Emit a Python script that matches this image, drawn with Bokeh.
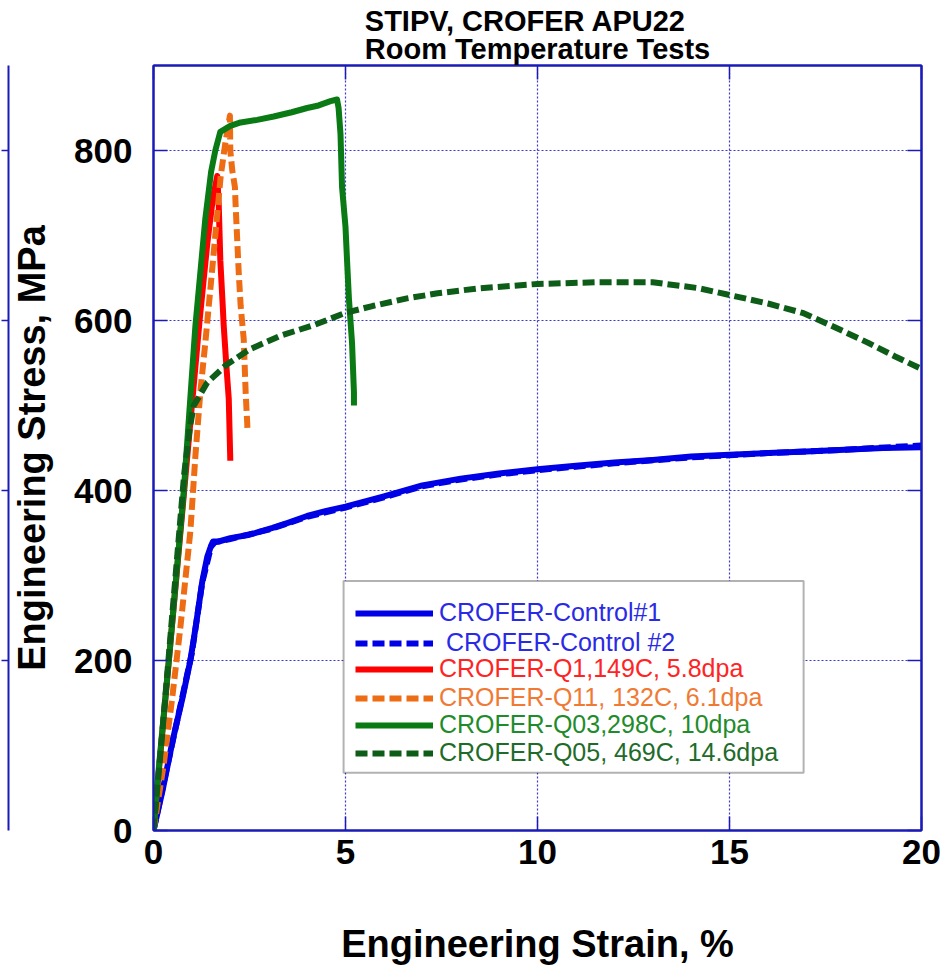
from bokeh.plotting import figure
from bokeh.models import (Range1d, LinearAxis, FixedTicker, Legend, LegendItem,
                          BoxAnnotation, Label)
from bokeh.embed import file_html
from bokeh.resources import INLINE

# ---------------- data ----------------
x_ticks = [0, 5, 10, 15, 20]
y_ticks = [0, 200, 400, 600, 800]

ctrl1_strain = [0, 0.25, 0.5, 0.75, 0.96, 1.1, 1.27, 1.4, 1.5, 1.55, 1.7, 2.0, 2.5, 3.1, 3.5,
                4.0, 4.5, 5.0, 6.0, 7.0, 8.0, 9.0, 10.0, 11.0, 12.0, 13.0, 14.0, 15.0,
                16.0, 17.0, 18.0, 19.0, 20.0]
ctrl1_stress = [0, 50, 106, 155, 200, 240, 293, 322, 335, 340, 340, 344, 348, 356, 362,
                370, 376, 381, 393, 406, 414, 420, 425, 429, 433, 436, 440, 442,
                444, 446, 448, 450, 451]

ctrl2_strain = [0, 0.5, 1.0, 1.27, 1.5, 1.6, 2.0, 3.0, 4.0, 5.0, 6.0, 7.0, 8.0, 9.0, 10.0,
                12.0, 14.0, 16.0, 18.0, 20.0]
ctrl2_stress = [0, 105, 209, 292, 334, 339, 343, 354, 369, 380, 392, 405, 413, 419, 424,
                432, 439, 444, 448, 453]

q1_strain = [0, 0.3, 0.6, 0.9, 1.2, 1.4, 1.55, 1.66, 1.70, 1.74, 1.80, 1.83, 1.90, 1.96, 2.0]
q1_stress = [0, 150, 300, 450, 600, 690, 745, 770, 735, 671, 620, 593, 545, 508, 435]

q11_strain = [0, 0.27, 0.49, 0.70, 0.96, 1.09, 1.22, 1.35, 1.52, 1.65, 1.75, 1.875, 1.99,
              2.0, 2.05, 2.12, 2.14, 2.18, 2.22, 2.27, 2.35, 2.40, 2.44, 2.45]
q11_stress = [0, 79, 157, 239, 352, 440, 516, 574, 656, 720, 770, 810, 841,
              800, 777, 757, 734, 695, 656, 617, 578, 515, 480, 468]

q03_strain = [0, 0.1, 0.4, 0.79, 1.09, 1.35, 1.5, 1.61, 1.74, 2.0, 2.27, 2.7, 3.13, 3.6,
              4.0, 4.3, 4.61, 4.78, 4.82, 4.87, 4.91, 5.0, 5.04, 5.09, 5.17, 5.22, 5.22]
q03_stress = [0, 55, 200, 400, 593, 720, 775, 800, 822, 829, 833, 836, 840, 845,
              850, 853, 858, 860, 850, 819, 757, 710, 671, 625, 574, 515, 500]

q05_strain = [0, 0.2, 0.5, 0.8, 0.95, 1.05, 1.22, 1.4, 1.9, 2.5, 3.3, 4.2, 5.0, 5.7, 6.6,
              7.4, 8.5, 10.0, 11.6, 13.0, 14.2, 15.0, 16.0, 16.9, 17.6, 18.6, 19.3, 20.0]
q05_stress = [0, 100, 260, 420, 475, 500, 513, 527, 548, 566, 582, 595, 609, 617, 626,
              632, 638, 643, 645, 645, 638, 630, 620, 609, 595, 574, 558, 543]

labels = ["CROFER-Control#1", "CROFER-Control #2", "CROFER-Q1,149C, 5.8dpa",
          "CROFER-Q11, 132C, 6.1dpa", "CROFER-Q03,298C, 10dpa", "CROFER-Q05, 469C, 14.6dpa"]

# ---------------- styling ----------------
FONT = "Liberation Sans"
FRAME = "#1a1ab8"
GRID = "#3a3ad0"
line_colors = ["#0000e6", "#0000e6", "#ff0000", "#ee6c14", "#0a7a14", "#0d5c17"]
text_colors = ["#2a2ae6", "#2a2ae6", "#ff2424", "#f07a34", "#1f8c2c", "#1f6b2a"]
dashes = ["solid", "12 5", "solid", "12 5", "solid", "12 5"]
LW = 6

p = figure(width=945, height=967, x_range=Range1d(0, 20), y_range=Range1d(0, 900),
           output_backend="svg", toolbar_location=None,
           min_border_left=153, min_border_right=24, min_border_top=65, min_border_bottom=133,
           x_axis_label="Engineering Strain, %", y_axis_label="Engineering Stress, MPa")
p.background_fill_color = "white"
p.border_fill_color = "white"
p.outline_line_color = FRAME
p.outline_line_width = 2

p.title.text = "STIPV, CROFER APU22\nRoom Temperature Tests"
p.title.align = "center"
p.title.text_font = FONT
p.title.text_font_size = "29px"
p.title.text_font_style = "bold"
p.title.text_color = "black"
p.title.text_line_height = 0.9
p.title.standoff = 0
p.title.offset = 0

# main axes
p.xaxis.ticker = FixedTicker(ticks=x_ticks)
p.yaxis.ticker = FixedTicker(ticks=y_ticks)
for ax in (p.xaxis[0], p.yaxis[0]):
    ax.major_tick_in = 14
    ax.major_tick_out = 0
    ax.minor_tick_in = 0
    ax.minor_tick_out = 0
    ax.axis_line_color = FRAME
    ax.axis_line_width = 2
    ax.major_tick_line_color = FRAME
    ax.major_tick_line_width = 1.5
    ax.major_label_text_font = FONT
    ax.major_label_text_font_size = "35px"
    ax.major_label_text_font_style = "bold"
    ax.major_label_text_color = "black"
    ax.axis_label_text_font = FONT
    ax.axis_label_text_font_size = "38px"
    ax.axis_label_text_font_style = "bold"
    ax.axis_label_text_color = "black"
p.xaxis.major_label_standoff = 9
p.xaxis.axis_label_standoff = 56
p.yaxis.major_label_standoff = 21
p.yaxis.axis_label_standoff = 18


def tick_only_axis(ticks):
    return LinearAxis(ticker=FixedTicker(ticks=ticks),
                      major_label_overrides={t: "" for t in ticks},
                      major_label_text_font_size="0px", major_label_standoff=0,
                      major_tick_in=14, major_tick_out=0, minor_tick_in=0, minor_tick_out=0,
                      axis_line_color=FRAME, axis_line_width=2,
                      major_tick_line_color=FRAME, major_tick_line_width=1.5)

p.add_layout(tick_only_axis(y_ticks), "right")
p.add_layout(tick_only_axis(x_ticks), "above")

# right edge of the neighbouring (cropped) panel, with its outward ticks
edge_ticks = [200, 400, 600, 800]
edge = LinearAxis(ticker=FixedTicker(ticks=edge_ticks),
                  major_label_overrides={t: "" for t in edge_ticks},
                  major_label_text_font_size="0px",
                  major_label_standoff=0, major_tick_in=0, major_tick_out=7,
                  minor_tick_in=0, minor_tick_out=0,
                  axis_line_color=FRAME, axis_line_width=2,
                  major_tick_line_color=FRAME, major_tick_line_width=1.5)
p.add_layout(edge, "left")

# tick label of the neighbouring panel (painted first, before any frame clipping)
p.add_layout(Label(x=-3.96, y=-10.5, text="20", text_align="left", text_baseline="top",
                   level="image",
                   text_font=FONT, text_font_size="35px", text_font_style="bold",
                   text_color="black"))

# grid
p.xgrid.ticker = FixedTicker(ticks=[5, 10, 15])
p.ygrid.ticker = FixedTicker(ticks=[200, 400, 600, 800])
for g in (p.xgrid[0], p.ygrid[0]):
    g.grid_line_color = GRID
    g.grid_line_width = 1.2
    g.grid_line_dash = "2 2"

# curves
series = [(ctrl2_strain, ctrl2_stress, 1), (ctrl1_strain, ctrl1_stress, 0),
          (q1_strain, q1_stress, 2), (q11_strain, q11_stress, 3),
          (q03_strain, q03_stress, 4), (q05_strain, q05_stress, 5)]
renderers = {}
for xs, ys, i in series:
    renderers[i] = p.line(xs, ys, line_color=line_colors[i], line_width=LW,
                          line_dash=dashes[i], line_join="round")

# legend frame
p.add_layout(BoxAnnotation(left=4.95, right=16.93, bottom=67.8, top=293.6,
                           fill_color="white", fill_alpha=1.0,
                           line_color="black", line_width=2))

legend_y = [203, 173, 147, 118, 91, 63]
for i in range(6):
    lg = Legend(items=[LegendItem(label=labels[i], renderers=[renderers[i]])],
                location=(202, legend_y[i]), padding=0, margin=0, spacing=0,
                glyph_width=78, glyph_height=24, label_height=24,
                label_standoff=13 if i == 1 else 6,
                border_line_alpha=0, background_fill_alpha=0,
                label_text_color=text_colors[i], label_text_font=FONT,
                label_text_font_size="25px")
    p.add_layout(lg, "center")

open("out.html", "w").write(file_html(p, INLINE, title="STIPV CROFER APU22"))
